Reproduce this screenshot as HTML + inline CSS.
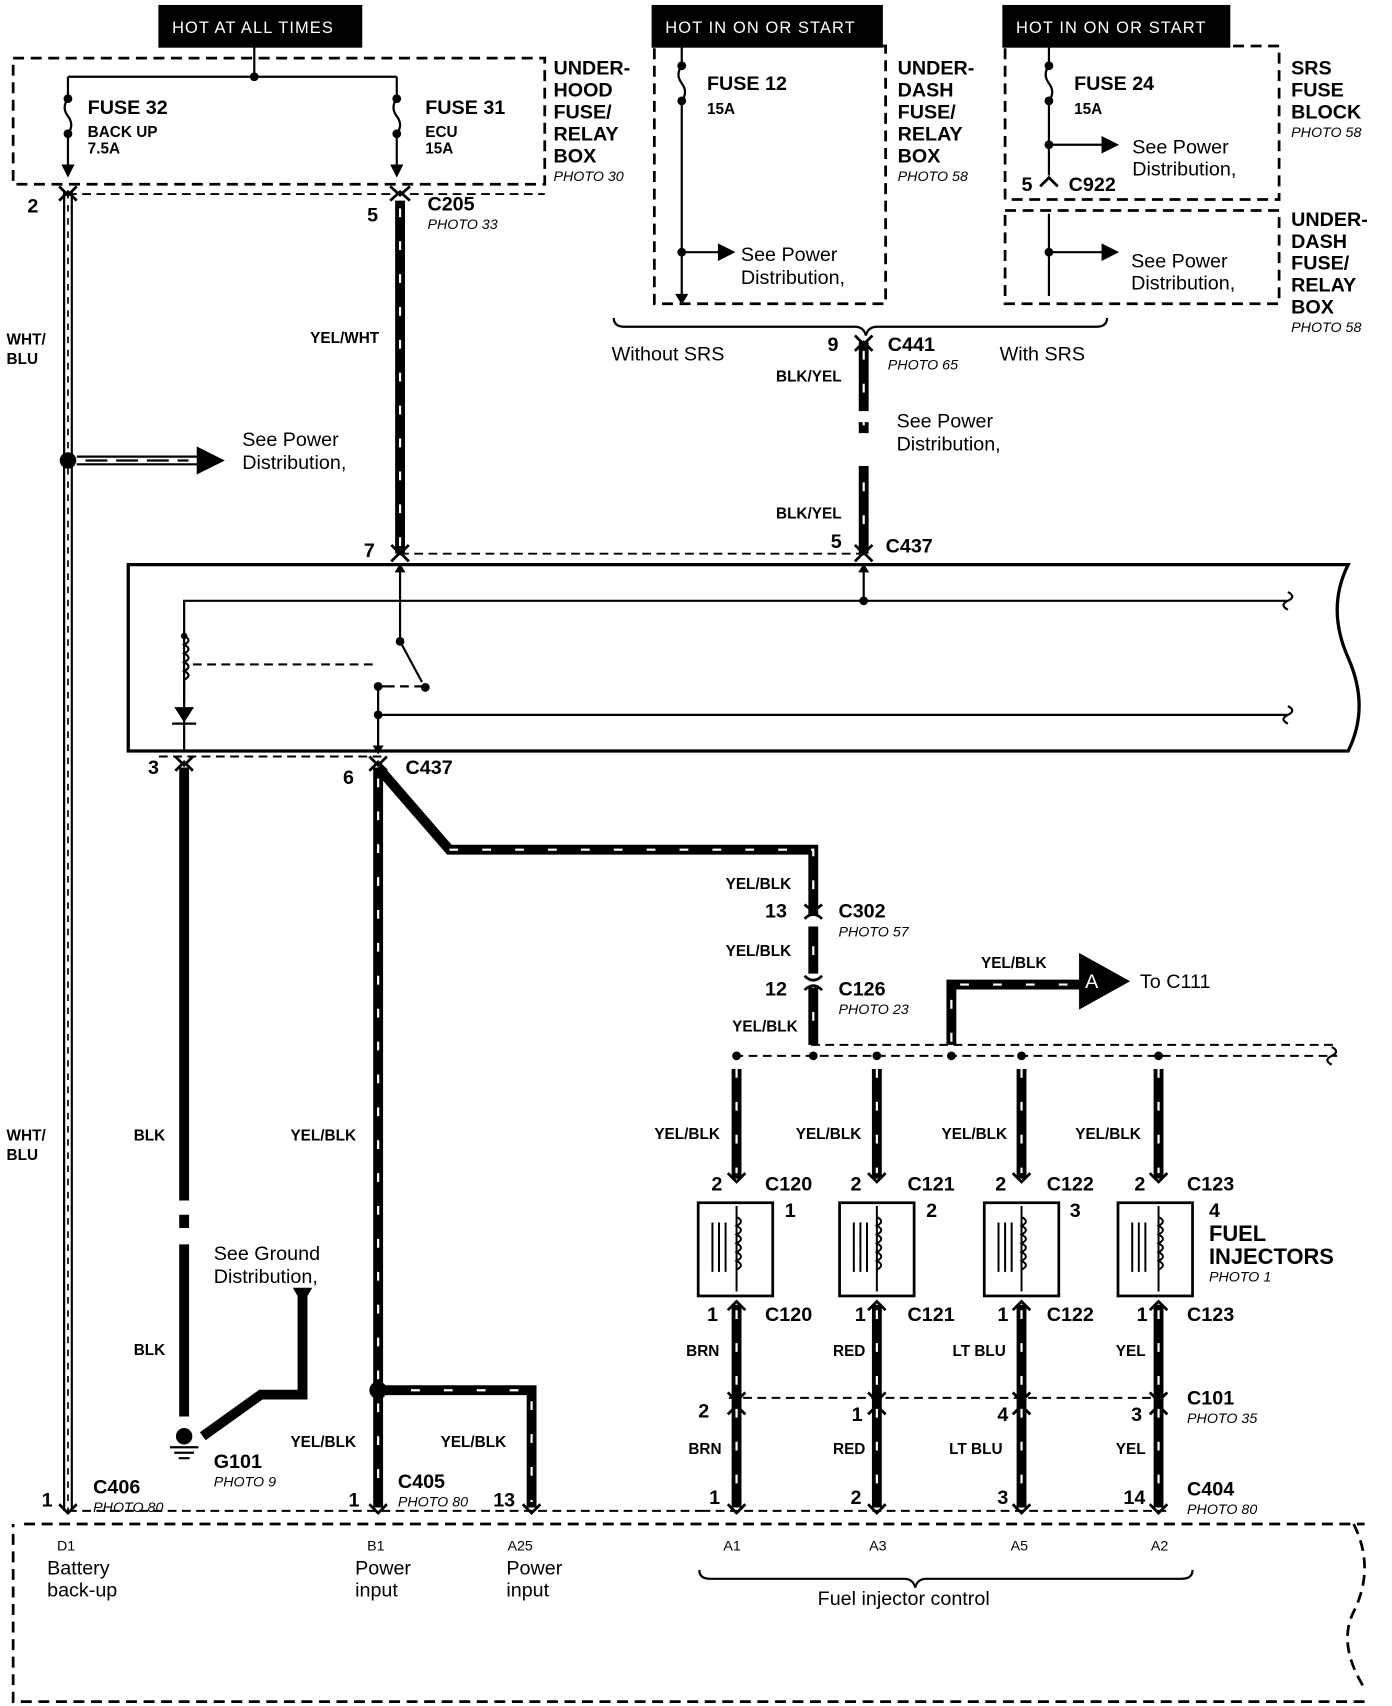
<!DOCTYPE html>
<html><head><meta charset="utf-8"><style>
html,body{margin:0;padding:0;background:#fff}
svg{display:block}
text{font-family:"Liberation Sans",Arial,sans-serif;fill:#000}
.b{font-weight:bold}
.s{font-size:14px;font-weight:bold}
.m{font-size:18px;font-weight:bold}
.l{font-size:20px;font-weight:bold}
.n{font-size:18px}
.i{font-size:13px;font-style:italic}
.h{font-size:15px;fill:#fff;letter-spacing:1px}
</style></head><body>
<svg width="1392" height="1706" viewBox="0 0 1270 1556" preserveAspectRatio="none" xmlns="http://www.w3.org/2000/svg">
<g fill="none" stroke="#000">
<!-- header boxes -->
<rect x="145" y="5" width="185" height="38" fill="#000"/>
<rect x="595" y="5" width="210" height="38" fill="#000"/>
<rect x="915" y="5" width="207" height="38" fill="#000"/>
<!-- dashed boxes -->
<g stroke-width="2.5" stroke-dasharray="10,6">
<rect x="12" y="53" width="485" height="115"/>
<rect x="597" y="42" width="211" height="235"/>
<rect x="917" y="42" width="250" height="140"/>
<rect x="917" y="192" width="250" height="85"/>
<path d="M22 1390 H1245 M1235 1390 q20 40 0 80 q-15 30 10 70 M1245 1552 H12 V1390"/>
<path d="M62 177 H497 M365 505 H790 M145 690 H350 M62 1378 H640 M640 1378 H1065 M740 953 H1220 M670 963 H1220 M665 1275 H1060" stroke-width="1.8" stroke-dasharray="8,5"/>
</g>
<!-- header links -->
<path d="M232 42 V70 M62 70 H362 M62 70 V90 M362 70 V90" stroke-width="2"/>
<path d="M622 42 V60 M957 42 V60" stroke-width="2"/>
<!-- fuses -->
<g stroke-width="2">
<path d="M62 90 q-6 8 0 16 q6 8 0 16 V150 M362 90 q-6 8 0 16 q6 8 0 16 V150"/>
<path d="M622 60 q-6 8 0 16 q6 8 0 16 V270 M622 230 H660"/>
<path d="M957 60 q-6 8 0 16 q6 8 0 16 V160 M957 132 H1010"/>
<path d="M957 195 V270 M957 230 H1010"/>
<path d="M560 290 q0 8 10 8 H780 q8 0 10 8 q2 -8 10 -8 H1000 q10 0 10 -8"/>
<path d="M638 1432 q0 8 10 8 H825 q8 0 10 8 q2 -8 10 -8 H1078 q10 0 10 -8"/>
</g>
<g fill="#000" stroke="none">
<circle cx="232" cy="70" r="4"/><circle cx="62" cy="90" r="4"/><circle cx="362" cy="90" r="4"/>
<circle cx="62" cy="122" r="4"/><circle cx="362" cy="122" r="4"/>
<circle cx="622" cy="60" r="4"/><circle cx="622" cy="92" r="4"/><circle cx="622" cy="230" r="4"/>
<circle cx="957" cy="60" r="4"/><circle cx="957" cy="92" r="4"/><circle cx="957" cy="132" r="4"/><circle cx="957" cy="230" r="4"/>
<path d="M655 222 l16 8 l-16 8z M1005 124 l16 8 l-16 8z M1005 222 l16 8 l-16 8z"/>
<path d="M56 150 l6 12 l6 -12z M356 150 l6 12 l6 -12z M616 268 l6 10 l6 -10z"/>
</g>
<!-- WHT/BLU wire -->
<path d="M62 175 V1378" stroke-width="9"/>
<path d="M62 175 V1378" stroke="#fff" stroke-width="5"/>
<path d="M62 175 V1378" stroke-width="1.5" stroke-dasharray="6,6"/>
<!-- see power dist arrow -->
<circle cx="62" cy="420" r="7" fill="#000"/>
<path d="M70 420 H180" stroke-width="9"/><path d="M70 420 H180" stroke="#fff" stroke-width="5"/>
<path d="M78 420 H172" stroke-width="2" stroke-dasharray="20,8"/>
<path d="M180 408 l24 12 l-24 12z" fill="#000"/>
<!-- solid black wires with ticks -->
<g stroke-width="9">
<path d="M365 183 V505"/>
<path d="M788 312 V375 M788 385 V395 M788 425 V505"/>
<path d="M168 700 V1095 M168 1108 V1120 M168 1135 V1292"/>
<path d="M276 1180 V1272 H238 L185 1310"/>
<path d="M672 975 V1075 M800 975 V1075 M932 975 V1075 M1057 975 V1075"/>
<path d="M672 1190 V1375 M800 1190 V1375 M932 1190 V1375 M1057 1190 V1375"/>
<path d="M345 700 V1375 M345 1268 H485 V1375"/>
<path d="M345 700 L410 775 H742 V835 M742 845 V888 M742 900 V953"/>
<path d="M868 953 V898 H985"/>
</g>
<g stroke="#fff" stroke-width="2" stroke-dasharray="8,22">
<path d="M365 190 V500 M788 320 V500 M345 710 V1370 M345 1268 H485 V1370 M410 775 H742 V950 M868 950 V898 H980 M672 975 V1070 M800 975 V1070 M932 975 V1070 M1057 975 V1070 M672 1195 V1370 M800 1195 V1370 M932 1195 V1370 M1057 1195 V1370"/>
</g>
<path d="M268 1175 l8 14 l8 -14z" fill="#000"/>
<path d="M985 870 l45 25 l-45 25z" fill="#000"/>
<!-- connector chevrons -->
<g stroke-width="2.5">
<path d="M54 170 l8 8 l8 -8 M54 183 l8 -8 l8 8 M356 170 l9 8 l9 -8 M356 183 l9 -8 l9 8 M780 306 l8 8 l8 -8 M780 320 l8 -8 l8 8"/>
<path d="M357 497 l8 8 l8 -8 M357 512 l8 -8 l8 8 M780 497 l8 8 l8 -8 M780 512 l8 -8 l8 8"/>
<path d="M160 690 l8 8 l8 -8 M160 703 l8 -8 l8 8 M337 690 l8 8 l8 -8 M337 703 l8 -8 l8 8"/>
<path d="M734 825 q8 8 16 0 M734 838 q8 -8 16 0 M734 890 q8 8 16 0 M734 903 q8 -8 16 0"/>
<path d="M664 1070 l8 8 l8 -8 M792 1070 l8 8 l8 -8 M924 1070 l8 8 l8 -8 M1049 1070 l8 8 l8 -8"/>
<path d="M664 1195 l8 -8 l8 8 M792 1195 l8 -8 l8 8 M924 1195 l8 -8 l8 8 M1049 1195 l8 -8 l8 8"/>
<path d="M664 1270 l8 8 l8 -8 M664 1290 l8 -8 l8 8 M792 1270 l8 8 l8 -8 M792 1290 l8 -8 l8 8 M924 1270 l8 8 l8 -8 M924 1290 l8 -8 l8 8 M1049 1270 l8 8 l8 -8 M1049 1290 l8 -8 l8 8"/>
<path d="M54 1372 l8 8 l8 -8 M337 1372 l8 8 l8 -8 M477 1372 l8 8 l8 -8 M664 1372 l8 8 l8 -8 M792 1372 l8 8 l8 -8 M924 1372 l8 8 l8 -8 M1049 1372 l8 8 l8 -8"/>
<path d="M949 170 l8 -8 l8 8"/>
</g>
<!-- ECM box -->
<path d="M117 515 H1230 q-20 40 0 85 q20 45 0 85 H117 Z" stroke-width="3"/>
<g stroke-width="2">
<path d="M168 640 V548 H1175 M1175 540 q8 4 0 8 q-8 4 0 8"/>
<path d="M345 652 H1175 M1175 644 q8 4 0 8 q-8 4 0 8"/>
<path d="M365 515 V585 L385 622 M345 626 V685 M345 626 H352"/>
<path d="M788 515 V548"/>
<path d="M168 580 q8 4 0 8 q8 4 0 8 q8 4 0 8 q8 4 0 8 q8 4 0 8 V640 V685"/>
<path d="M176 606 H345 M352 626 H385" stroke-dasharray="8,5"/>
</g>
<g fill="#000" stroke="none">
<circle cx="788" cy="548" r="4"/><circle cx="365" cy="585" r="4"/><circle cx="388" cy="627" r="4"/><circle cx="345" cy="626" r="4"/><circle cx="345" cy="652" r="4"/><circle cx="168" cy="580" r="3"/>
<path d="M159 645 l9 14 l9 -14z"/>
<path d="M360 522 l5 -8 l5 8z M783 522 l5 -8 l5 8z M340 680 l5 8 l5 -8z"/>
<circle cx="345" cy="1268" r="8"/>
</g>
<path d="M157 660 H179" stroke-width="2"/>
<!-- ground -->
<circle cx="168" cy="1310" r="7" fill="#000"/>
<path d="M155 1320 H181 M159 1325 H177 M163 1330 H173" stroke-width="2"/>
<!-- junction dots -->
<g fill="#000" stroke="none">
<circle cx="672" cy="963" r="4"/><circle cx="742" cy="963" r="4"/><circle cx="800" cy="963" r="4"/><circle cx="868" cy="963" r="4"/><circle cx="932" cy="963" r="4"/><circle cx="1057" cy="963" r="4"/>
</g>
<path d="M1215 955 q8 4 0 8 q-8 4 0 8" stroke-width="2"/>
<!-- injectors -->
<g stroke-width="2.5">
<rect x="637" y="1097" width="68" height="85"/><rect x="766" y="1097" width="68" height="85"/><rect x="898" y="1097" width="68" height="85"/><rect x="1020" y="1097" width="68" height="85"/>
</g>
<g stroke-width="1.8">
<path d="M650 1115 V1160 M656 1115 V1160 M662 1115 V1160 M672 1100 V1178 M672 1110 q8 4 0 8 q8 4 0 8 q8 4 0 8 q8 4 0 8 q8 4 0 8 q8 4 0 8"/>
<path d="M779 1115 V1160 M785 1115 V1160 M791 1115 V1160 M800 1100 V1178 M800 1110 q8 4 0 8 q8 4 0 8 q8 4 0 8 q8 4 0 8 q8 4 0 8 q8 4 0 8"/>
<path d="M911 1115 V1160 M917 1115 V1160 M923 1115 V1160 M932 1100 V1178 M932 1110 q8 4 0 8 q8 4 0 8 q8 4 0 8 q8 4 0 8 q8 4 0 8 q8 4 0 8"/>
<path d="M1033 1115 V1160 M1039 1115 V1160 M1045 1115 V1160 M1057 1100 V1178 M1057 1110 q8 4 0 8 q8 4 0 8 q8 4 0 8 q8 4 0 8 q8 4 0 8 q8 4 0 8"/>
</g>
</g>
<!-- TEXT -->
<text x="157" y="30" class="h">HOT AT ALL TIMES</text>
<text x="607" y="30" class="h">HOT IN ON OR START</text>
<text x="927" y="30" class="h">HOT IN ON OR START</text>
<text x="80" y="104" class="m">FUSE 32</text><text x="80" y="125" class="s">BACK UP</text><text x="80" y="140" class="s">7.5A</text>
<text x="388" y="104" class="m">FUSE 31</text><text x="388" y="125" class="s">ECU</text><text x="388" y="140" class="s">15A</text>
<text x="505" y="68" class="m">UNDER-</text><text x="505" y="88" class="m">HOOD</text><text x="505" y="108" class="m">FUSE/</text><text x="505" y="128" class="m">RELAY</text><text x="505" y="148" class="m">BOX</text><text x="505" y="165" class="i">PHOTO 30</text>
<text x="645" y="82" class="m">FUSE 12</text><text x="645" y="104" class="s">15A</text>
<text x="676" y="238" class="n">See Power</text><text x="676" y="259" class="n">Distribution,</text>
<text x="819" y="68" class="m">UNDER-</text><text x="819" y="88" class="m">DASH</text><text x="819" y="108" class="m">FUSE/</text><text x="819" y="128" class="m">RELAY</text><text x="819" y="148" class="m">BOX</text><text x="819" y="165" class="i">PHOTO 58</text>
<text x="980" y="82" class="m">FUSE 24</text><text x="980" y="104" class="s">15A</text>
<text x="1033" y="140" class="n">See Power</text><text x="1033" y="160" class="n">Distribution,</text>
<text x="932" y="174" class="m">5</text><text x="975" y="174" class="m">C922</text>
<text x="1032" y="244" class="n">See Power</text><text x="1032" y="264" class="n">Distribution,</text>
<text x="1178" y="68" class="m">SRS</text><text x="1178" y="88" class="m">FUSE</text><text x="1178" y="108" class="m">BLOCK</text><text x="1178" y="125" class="i">PHOTO 58</text>
<text x="1178" y="206" class="m">UNDER-</text><text x="1178" y="226" class="m">DASH</text><text x="1178" y="246" class="m">FUSE/</text><text x="1178" y="266" class="m">RELAY</text><text x="1178" y="286" class="m">BOX</text><text x="1178" y="303" class="i">PHOTO 58</text>
<text x="25" y="194" class="m">2</text><text x="335" y="202" class="m">5</text><text x="390" y="192" class="m">C205</text><text x="390" y="209" class="i">PHOTO 33</text>
<text x="558" y="329" class="n">Without SRS</text><text x="912" y="329" class="n">With SRS</text>
<text x="755" y="320" class="m">9</text><text x="810" y="320" class="m">C441</text><text x="810" y="337" class="i">PHOTO 65</text>
<text x="708" y="348" class="s">BLK/YEL</text><text x="708" y="473" class="s">BLK/YEL</text>
<text x="818" y="390" class="n">See Power</text><text x="818" y="411" class="n">Distribution,</text>
<text x="6" y="314" class="s">WHT/</text><text x="6" y="332" class="s">BLU</text>
<text x="283" y="313" class="s">YEL/WHT</text>
<text x="221" y="407" class="n">See Power</text><text x="221" y="428" class="n">Distribution,</text>
<text x="332" y="508" class="m">7</text><text x="758" y="500" class="m">5</text><text x="808" y="504" class="m">C437</text>
<text x="135" y="706" class="m">3</text><text x="313" y="715" class="m">6</text><text x="370" y="706" class="m">C437</text>
<text x="662" y="811" class="s">YEL/BLK</text><text x="698" y="837" class="m">13</text><text x="765" y="837" class="m">C302</text><text x="765" y="854" class="i">PHOTO 57</text>
<text x="662" y="872" class="s">YEL/BLK</text><text x="698" y="908" class="m">12</text><text x="765" y="908" class="m">C126</text><text x="765" y="925" class="i">PHOTO 23</text>
<text x="668" y="941" class="s">YEL/BLK</text>
<text x="895" y="883" class="s">YEL/BLK</text>
<text x="990" y="901" class="n" style="fill:#fff">A</text><text x="1040" y="901" class="n">To C111</text>
<text x="6" y="1040" class="s">WHT/</text><text x="6" y="1058" class="s">BLU</text>
<text x="122" y="1040" class="s">BLK</text><text x="122" y="1236" class="s">BLK</text>
<text x="265" y="1040" class="s">YEL/BLK</text><text x="265" y="1320" class="s">YEL/BLK</text><text x="402" y="1320" class="s">YEL/BLK</text>
<text x="195" y="1149" class="n">See Ground</text><text x="195" y="1170" class="n">Distribution,</text>
<text x="195" y="1339" class="m">G101</text><text x="195" y="1356" class="i">PHOTO 9</text>
<text x="597" y="1039" class="s">YEL/BLK</text><text x="726" y="1039" class="s">YEL/BLK</text><text x="859" y="1039" class="s">YEL/BLK</text><text x="981" y="1039" class="s">YEL/BLK</text>
<text x="649" y="1086" class="m">2</text><text x="698" y="1086" class="m">C120</text><text x="776" y="1086" class="m">2</text><text x="828" y="1086" class="m">C121</text><text x="908" y="1086" class="m">2</text><text x="955" y="1086" class="m">C122</text><text x="1035" y="1086" class="m">2</text><text x="1083" y="1086" class="m">C123</text>
<text x="716" y="1110" class="m">1</text><text x="845" y="1110" class="m">2</text><text x="976" y="1110" class="m">3</text><text x="1103" y="1110" class="m">4</text>
<text x="1103" y="1132" class="l">FUEL</text><text x="1103" y="1153" class="l">INJECTORS</text><text x="1103" y="1169" class="i">PHOTO 1</text>
<text x="645" y="1205" class="m">1</text><text x="698" y="1205" class="m">C120</text><text x="780" y="1205" class="m">1</text><text x="828" y="1205" class="m">C121</text><text x="910" y="1205" class="m">1</text><text x="955" y="1205" class="m">C122</text><text x="1037" y="1205" class="m">1</text><text x="1083" y="1205" class="m">C123</text>
<text x="626" y="1237" class="s">BRN</text><text x="760" y="1237" class="s">RED</text><text x="869" y="1237" class="s">LT BLU</text><text x="1018" y="1237" class="s">YEL</text>
<text x="637" y="1293" class="m">2</text><text x="777" y="1296" class="m">1</text><text x="910" y="1296" class="m">4</text><text x="1032" y="1296" class="m">3</text>
<text x="1083" y="1281" class="m">C101</text><text x="1083" y="1298" class="i">PHOTO 35</text>
<text x="628" y="1326" class="s">BRN</text><text x="760" y="1326" class="s">RED</text><text x="866" y="1326" class="s">LT BLU</text><text x="1018" y="1326" class="s">YEL</text>
<text x="38" y="1374" class="m">1</text><text x="85" y="1362" class="m">C406</text><text x="85" y="1379" class="i">PHOTO 80</text>
<text x="318" y="1374" class="m">1</text><text x="363" y="1357" class="m">C405</text><text x="363" y="1374" class="i">PHOTO 80</text><text x="450" y="1374" class="m">13</text>
<text x="647" y="1372" class="m">1</text><text x="776" y="1372" class="m">2</text><text x="910" y="1372" class="m">3</text><text x="1025" y="1372" class="m">14</text>
<text x="1083" y="1364" class="m">C404</text><text x="1083" y="1381" class="i">PHOTO 80</text>
<text x="52" y="1414" style="font-size:13px">D1</text><text x="43" y="1436" class="n">Battery</text><text x="43" y="1456" class="n">back-up</text>
<text x="335" y="1414" style="font-size:13px">B1</text><text x="324" y="1436" class="n">Power</text><text x="324" y="1456" class="n">input</text>
<text x="463" y="1414" style="font-size:13px">A25</text><text x="462" y="1436" class="n">Power</text><text x="462" y="1456" class="n">input</text>
<text x="660" y="1414" style="font-size:13px">A1</text><text x="793" y="1414" style="font-size:13px">A3</text><text x="922" y="1414" style="font-size:13px">A5</text><text x="1050" y="1414" style="font-size:13px">A2</text>
<text x="746" y="1464" class="n">Fuel injector control</text>
</svg>
</body></html>
